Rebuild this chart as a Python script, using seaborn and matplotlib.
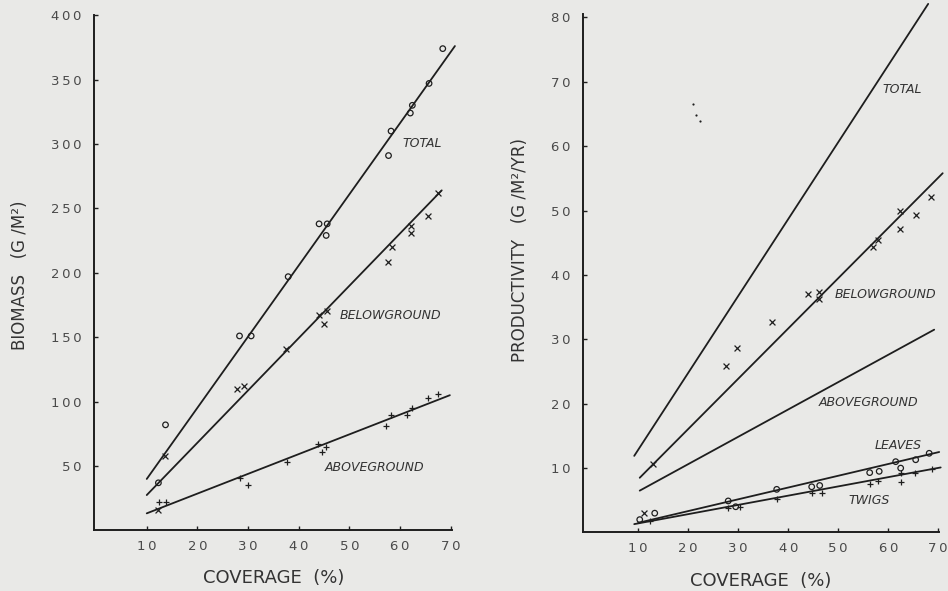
import matplotlib
matplotlib.use("Agg")
import matplotlib.pyplot as plt
import seaborn as sns

# Biomass panel (left)
bio_total_x = [68.4, 65.7, 62.4, 62.0, 58.2, 57.7, 44.0, 45.6, 45.4, 37.9, 28.3, 30.6, 13.7, 12.3]
bio_total_y = [374, 347, 330, 324, 310, 291, 238, 238, 229, 197, 151, 151, 82, 37]
bio_below_x = [67.5, 65.4, 62.1, 62.1, 58.3, 57.5, 44.0, 45.5, 45.0, 37.4, 27.9, 29.1, 13.6, 12.2]
bio_below_y = [262, 244, 236, 231, 220, 208, 167, 170, 160, 141, 110, 112, 58, 16]
bio_above_x = [67.4, 65.4, 62.3, 61.3, 58.2, 57.2, 43.7, 45.4, 44.5, 37.6, 28.4, 29.9, 12.4, 13.8]
bio_above_y = [106, 103, 95, 90, 90, 81, 67, 65, 61, 53, 41, 35, 22, 22]

# fitted regression lines, read at their ends
bio_lines = {
    "TOTAL": ([10, 70.8], [40, 376]),
    "BELOWGROUND": ([10, 68.2], [27.5, 264]),
    "ABOVEGROUND": ([10, 69.8], [13.3, 105]),
}

# Productivity panel (right)
prod_below_x = [68.5, 65.5, 62.3, 62.3, 58.0, 56.9, 44.0, 46.2, 46.2, 36.7, 29.8, 27.5, 13.0, 11.1]
prod_below_y = [52.1, 49.3, 50.0, 47.1, 45.5, 44.4, 37.0, 37.4, 36.2, 32.7, 28.6, 25.9, 10.6, 3.0]
prod_leaves_x = [68.2, 65.5, 62.5, 61.5, 58.2, 56.3, 46.3, 44.7, 37.7, 28.0, 29.5, 13.3, 10.3]
prod_leaves_y = [12.3, 11.3, 10.0, 11.0, 9.5, 9.3, 7.3, 7.1, 6.7, 4.9, 4.0, 3.0, 2.0]
prod_twigs_x = [68.7, 65.3, 62.5, 62.5, 58.0, 56.3, 46.7, 44.7, 37.7, 30.3, 28.0, 12.3]
prod_twigs_y = [9.9, 9.3, 9.3, 7.9, 8.0, 7.5, 6.1, 6.1, 5.2, 4.0, 3.75, 1.8]
stray_x = [20.9, 21.5, 22.3]
stray_y = [66.6, 64.8, 63.9]

prod_lines = {
    "TOTAL": ([9.2, 68.0], [11.9, 82.1]),
    "BELOWGROUND": ([10.3, 70.9], [8.5, 55.8]),
    "ABOVEGROUND": ([10.3, 69.2], [6.5, 31.5]),
    "LEAVES": ([10.0, 70.2], [1.5, 12.5]),
    "TWIGS": ([9.2, 70.5], [1.3, 10.1]),
}

bio_labels = {"TOTAL": (60.5, 300), "BELOWGROUND": (48.1, 167), "ABOVEGROUND": (45.2, 49)}
prod_labels = {"TOTAL": (58.9, 68.8), "BELOWGROUND": (49.3, 36.9), "ABOVEGROUND": (46.0, 20.2),
               "LEAVES": (57.3, 13.5), "TWIGS": (52.0, 5.0)}

x_ticks = [10, 20, 30, 40, 50, 60, 70]
bio_ticks = [50, 100, 150, 200, 250, 300, 350, 400]
prod_ticks = [10, 20, 30, 40, 50, 60, 70, 80]

sns.set_style("ticks")
bg = "#e9e9e7"
ink = "#1e1e1e"
plt.rcParams["font.family"] = ["DejaVu Sans"]

fig = plt.figure(figsize=(9.48, 5.91), dpi=100, facecolor=bg)
ax1 = fig.add_axes([0.0992, 0.1024, 0.378, 0.872])
ax2 = fig.add_axes([0.6147, 0.099, 0.376, 0.877])


def spaced(v):
    return "\u2009".join(str(v))


def style_axis(ax, yticks, xlim, ylim):
    ax.set_facecolor(bg)
    ax.set_xlim(*xlim)
    ax.set_ylim(*ylim)
    for s in ["top", "right"]:
        ax.spines[s].set_visible(False)
    for s in ["left", "bottom"]:
        ax.spines[s].set_color(ink)
        ax.spines[s].set_linewidth(1.4)
    ax.set_xticks(x_ticks)
    ax.set_xticklabels([spaced(t) for t in x_ticks])
    ax.set_yticks(yticks)
    ax.set_yticklabels([spaced(t) for t in yticks])
    ax.tick_params(direction="in", length=3, width=1, color=ink, labelsize=9.5,
                   labelcolor="#4a4a4a")
    ax.tick_params(axis="x", pad=7)
    ax.tick_params(axis="y", pad=9)


def draw_line(ax, xs, ys):
    sns.lineplot(x=xs, y=ys, ax=ax, color=ink, linewidth=1.3, clip_on=False)


def pts(ax, xs, ys, marker):
    if marker == "o":
        sns.scatterplot(x=xs, y=ys, ax=ax, marker="o", s=16, facecolors="none",
                        edgecolor=ink, linewidth=0.9, clip_on=False)
    else:
        sns.scatterplot(x=xs, y=ys, ax=ax, marker=marker, s=18, color=ink,
                        linewidth=0.9, clip_on=False)


# left panel
style_axis(ax1, bio_ticks, (-0.4, 70.3), (0, 400))
for name, (lx, ly) in bio_lines.items():
    draw_line(ax1, lx, ly)
pts(ax1, bio_total_x, bio_total_y, "o")
pts(ax1, bio_below_x, bio_below_y, "x")
pts(ax1, bio_above_x, bio_above_y, "+")
for name, (tx, ty) in bio_labels.items():
    ax1.text(tx, ty, name, fontsize=9, style="italic", color="#333333", va="center")
ax1.set_xlabel("COVERAGE  (%)", fontsize=13, color="#333333")
ax1.xaxis.set_label_coords(0.5, -0.075)
ax1.set_ylabel("BIOMASS   (G /M²)", fontsize=12, color="#333333")
ax1.yaxis.set_label_coords(-0.181, 0.496)

# right panel
style_axis(ax2, prod_ticks, (-1.1, 70.2), (0, 80.5))
for name, (lx, ly) in prod_lines.items():
    draw_line(ax2, lx, ly)
pts(ax2, prod_below_x, prod_below_y, "x")
pts(ax2, prod_leaves_x, prod_leaves_y, "o")
pts(ax2, prod_twigs_x, prod_twigs_y, "+")
sns.scatterplot(x=stray_x, y=stray_y, ax=ax2, marker=".", s=10, color=ink, linewidth=0)
for name, (tx, ty) in prod_labels.items():
    ax2.text(tx, ty, name, fontsize=9, style="italic", color="#333333", va="center")
ax2.set_xlabel("COVERAGE  (%)", fontsize=13, color="#333333")
ax2.xaxis.set_label_coords(0.5, -0.076)
ax2.set_ylabel("PRODUCTIVITY   (G /M²/YR)", fontsize=12, color="#333333")
ax2.yaxis.set_label_coords(-0.151, 0.545)

fig.savefig("out.png", dpi=100, facecolor=bg)
